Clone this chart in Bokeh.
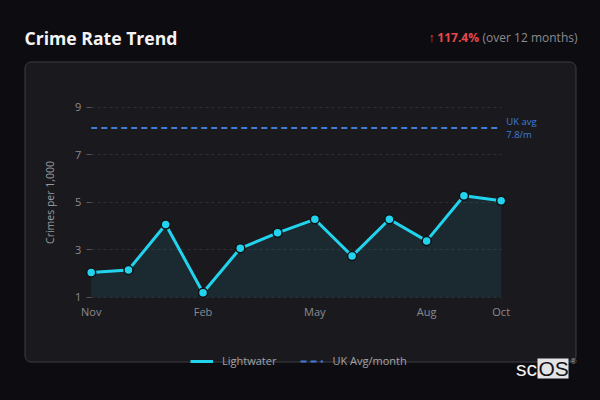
import math
from bokeh.plotting import figure
from bokeh.models import (Range1d, FixedTicker, Label, BoxAnnotation, Legend, LegendItem,
                          ColumnDataSource)
from bokeh.embed import file_html
from bokeh.resources import INLINE

# ---- data ----
months = ["Nov", "Dec", "Jan", "Feb", "Mar", "Apr", "May", "Jun", "Jul", "Aug", "Sep", "Oct"]
lightwater = [2.04, 2.15, 4.06, 1.19, 3.06, 3.71, 4.28, 2.73, 4.28, 3.37, 5.27, 5.06]
uk_avg_level = 8.12
uk_avg_text = "UK avg\n7.8/m"
y_ticks = [1, 3, 5, 7, 9]
x_tick_idx = [0, 3, 6, 9, 11]
change_text = "117.4%"
period_text = "(over 12 months)"
title_text = "Crime Rate Trend"

# ---- layout constants (pixels) ----
W, H = 600, 400
BL, BB = 22, 20               # side panels holding the (fixed-location) axes
FL, FB = BL, H - BB           # frame left / bottom in page pixels
PX_X0, PX_X1 = 90.7, 500.7    # pixel of first / last month
PX_Y1, PX_PER_Y = 296.7, 23.75  # pixel of value 1, pixels per unit

PAGE_BG = "#0d0d11"
CARD_BG = "#1a1a1e"
CARD_BORDER = "#3c3c43"
CYAN = "#22d3ee"
BLUE = "#3f7bd9"
FONT = "Open Sans"

xs = list(range(len(months)))
ppx = (PX_X1 - PX_X0) / (len(months) - 1)
x_start = xs[0] - (PX_X0 - FL) / ppx
x_end = xs[-1] + (W - PX_X1) / ppx
y_start = y_ticks[0] - (FB - PX_Y1) / PX_PER_Y
y_end = y_ticks[0] + PX_Y1 / PX_PER_Y


def sx(px):
    return px - FL


def sy(py):
    return FB - py


src = ColumnDataSource(dict(x=xs, y=lightwater, base=[y_ticks[0]] * len(xs)))

p = figure(width=W, height=H, output_backend="svg", toolbar_location=None,
           x_range=Range1d(x_start, x_end), y_range=Range1d(y_start, y_end),
           min_border_left=BL, min_border_right=0, min_border_top=0, min_border_bottom=BB)
p.border_fill_color = PAGE_BG
p.background_fill_color = PAGE_BG
p.outline_line_color = None

try:
    from bokeh.models import GlobalInlineStyleSheet
    p.stylesheets = [GlobalInlineStyleSheet(css="html, body { background-color: %s; }" % PAGE_BG)]
except Exception:
    pass

# card
card = BoxAnnotation(left=sx(24.5), right=sx(575.5), top=sy(61.5), bottom=sy(361.5),
                     left_units="screen", right_units="screen", top_units="screen", bottom_units="screen",
                     fill_color=CARD_BG, fill_alpha=1, line_color=CARD_BORDER, line_alpha=1,
                     line_width=1, level="image")
try:
    card.border_radius = 6
except Exception:
    pass
p.add_layout(card)

# grid
p.xgrid.visible = False
p.ygrid.ticker = FixedTicker(ticks=y_ticks)
p.ygrid.grid_line_color = "#2e2e35"
p.ygrid.grid_line_dash = "3 3"
p.ygrid.grid_line_width = 1
try:
    p.ygrid.cross_bounds = (xs[0], xs[-1])
except Exception:
    pass

# axes (drawn at fixed data locations, inside the plotting area)
yax = p.yaxis[0]
yax.ticker = FixedTicker(ticks=y_ticks)
yax.fixed_location = xs[0]
yax.axis_line_color = None
yax.major_tick_in = 0
yax.major_tick_out = 5
yax.major_tick_line_color = "#55555b"
yax.minor_tick_line_color = None
yax.major_label_standoff = 5
yax.major_label_text_color = "#8a8a90"
yax.major_label_text_font = FONT
yax.major_label_text_font_size = "11px"

xax = p.xaxis[0]
xax.ticker = FixedTicker(ticks=x_tick_idx)
xax.fixed_location = y_ticks[0]
xax.major_label_overrides = {i: months[i] for i in x_tick_idx}
xax.axis_line_color = None
xax.major_tick_line_color = None
xax.minor_tick_line_color = None
xax.major_tick_in = 0
xax.major_tick_out = 0
xax.major_label_standoff = 7
xax.major_label_text_color = "#8a8a90"
xax.major_label_text_font = FONT
xax.major_label_text_font_size = "11px"

# area + line + markers
p.varea(x="x", y1="base", y2="y", source=src, fill_color=CYAN, fill_alpha=0.09)
uk_line = p.line(x=[xs[0], xs[-1]], y=[uk_avg_level, uk_avg_level], line_color=BLUE,
                 line_width=2, line_dash="6 4")
lw_line = p.line(x="x", y="y", source=src, line_color=CYAN, line_width=3)
p.scatter(x="x", y="y", source=src, size=9, fill_color=CYAN, line_color="#101216", line_width=1.5)

p.add_layout(Label(x=xs[-1], y=uk_avg_level, x_offset=5, text=uk_avg_text, text_color=BLUE,
                   text_font=FONT, text_font_size="9.5px", text_baseline="middle", text_align="left",
                   text_line_height=1.05))

# y axis label
p.add_layout(Label(x=sx(49.3), y=sy(202), x_units="screen", y_units="screen", text="Crimes per 1,000",
                   angle=math.pi / 2, text_align="center", text_baseline="middle",
                   text_color="#9a9aa0", text_font=FONT, text_font_size="10.5px"))

# header
p.add_layout(Label(x=sx(24), y=sy(37), x_units="screen", y_units="screen", text=title_text,
                   text_color="#f4f4f5", text_font=FONT, text_font_style="bold",
                   text_font_size="17.6px", text_baseline="middle"))
p.add_layout(Label(x=sx(577), y=sy(37), x_units="screen", y_units="screen", text=period_text,
                   text_color="#8a8a90", text_font=FONT, text_font_size="12px",
                   text_align="right", text_baseline="middle"))
p.add_layout(Label(x=sx(478.5), y=sy(37), x_units="screen", y_units="screen", text=change_text,
                   text_color="#e5484d", text_font=FONT, text_font_style="bold",
                   text_font_size="12px", text_align="right", text_baseline="middle"))
p.add_layout(Label(x=sx(434), y=sy(37), x_units="screen", y_units="screen", text="\u2191",
                   text_color="#e5484d", text_font=FONT,
                   text_font_size="12px", text_align="right", text_baseline="middle"))

# legend
legend = Legend(items=[LegendItem(label="Lightwater", renderers=[lw_line]),
                       LegendItem(label="UK Avg/month", renderers=[uk_line])],
                location=(sx(190), sy(368)), orientation="horizontal",
                glyph_width=23, glyph_height=12, label_height=12, label_standoff=9,
                spacing=24, padding=0, margin=0,
                label_text_font=FONT, label_text_font_size="11px", label_text_color="#a3a3a8",
                background_fill_alpha=0, border_line_alpha=0)
p.add_layout(legend)

# logo
p.add_layout(BoxAnnotation(left=sx(537), right=sx(568), top=sy(358), bottom=sy(378),
                           left_units="screen", right_units="screen", top_units="screen",
                           bottom_units="screen", fill_color="#e4e4e6", fill_alpha=1,
                           line_color=None, level="overlay"))
p.add_layout(Label(x=sx(536.5), y=sy(368), x_units="screen", y_units="screen", text="sc",
                   text_color="#f2f2f2", text_font="Liberation Sans", text_font_size="21px",
                   text_align="right", text_baseline="middle", level="overlay"))
p.add_layout(Label(x=sx(538), y=sy(368), x_units="screen", y_units="screen", text="OS",
                   text_color="#141418", text_font="Liberation Sans", text_font_size="21px",
                   text_align="left", text_baseline="middle", level="overlay"))
p.add_layout(Label(x=sx(570), y=sy(361), x_units="screen", y_units="screen", text="\u00ae",
                   text_color="#b0b0b4", text_font="Liberation Sans", text_font_size="8px",
                   text_align="left", text_baseline="middle", level="overlay"))

open("out.html", "w").write(file_html(p, INLINE))
